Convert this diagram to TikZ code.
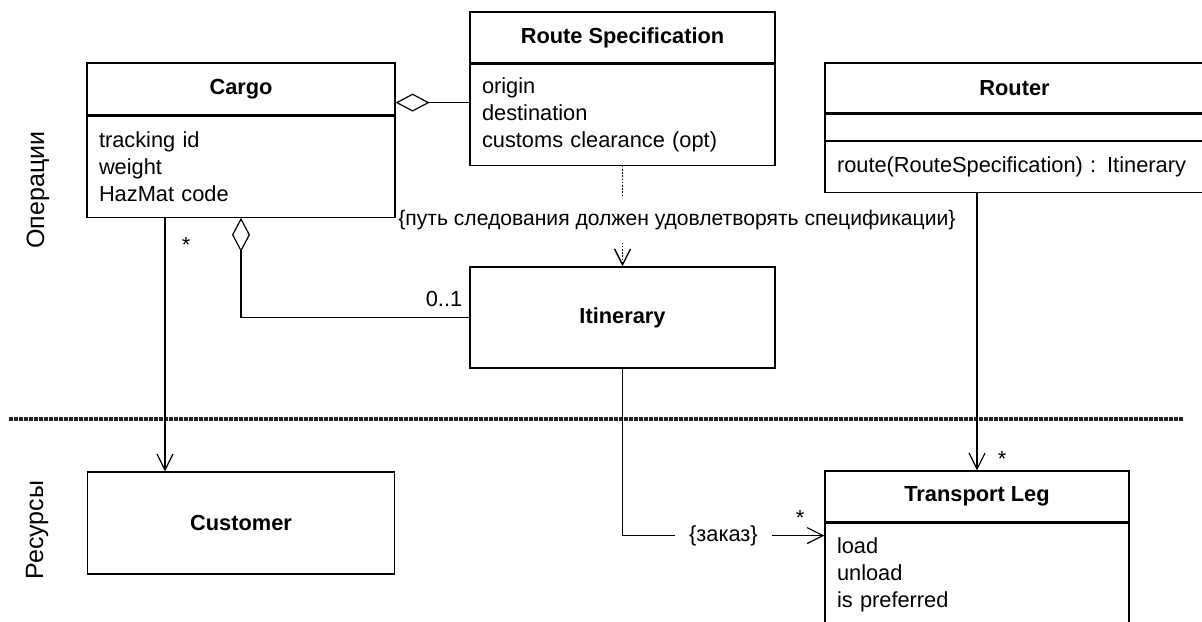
\documentclass[tikz,border=0pt]{standalone}
\usepackage{fontspec}
\setmainfont{Liberation Sans}
\usetikzlibrary{positioning,arrows.meta}

\newcommand\umlfont{\fontsize{10.9pt}{13.5pt}\selectfont}
\newcommand\notefont{\fontsize{10.55pt}{13pt}\selectfont}
\newcommand\lanefont{\fontsize{12.5pt}{15pt}\selectfont}

\tikzset{
  uml/.style={draw, line width=0.6pt, inner sep=0pt, font=\umlfont},
  classname/.style n args={2}{uml, font=\umlfont\bfseries, minimum width=#1, minimum height=#2},
  attrs/.style n args={2}{uml, align=left, text width=#1, inner xsep=6pt, minimum height=#2},
  mult/.style={font=\umlfont, anchor=base},
  lane/.style={font=\lanefont, rotate=90},
  separator/.style={line width=1.6pt, black!85, dash pattern=on 2pt off 0.5pt},
  assoc/.style={line width=0.6pt, -{Straight Barb[length=8pt,width=8pt]}},
  aggr/.style={line width=0.6pt, {Diamond[open,length=17pt,width=9pt]}-},
  depends/.style={assoc, line width=0.7pt, dash pattern=on 0.8pt off 0.8pt},
}

\begin{document}
\begin{tikzpicture}[x=0.5pt,y=-0.5pt]
  \useasboundingbox (0,0) rectangle (1202,621);
  \clip (0,0) rectangle (1202,621);

  % layers
  \node[lane] (ops) at (38,190) {Операции};
  \node[lane] (res) at (37,530) {Ресурсы};
  \draw[separator] (9,419) -- (1183,419);

  % classes
  \node[classname={154pt}{26pt}] (cargo) at (241,89) {Cargo};
  \node[attrs={142pt}{50.5pt}, below=0pt of cargo] (cargoattr) {tracking id\\weight\\HazMat code};

  \node[classname={152.5pt}{25.5pt}] (routespec) at (622.5,37.5) {Route Specification};
  \node[attrs={140.5pt}{50.5pt}, below=0pt of routespec] (routespecattr) {origin\\destination\\customs clearance (opt)};

  \node[classname={189.5pt}{25pt}] (router) at (1014.5,88) {Router};
  \node[attrs={177.5pt}{13pt}, below=0pt of router] (routerattr) {};
  \node[attrs={177.5pt}{25.5pt}, below=0pt of routerattr] (routerops) {route(RouteSpecification) : Itinerary};

  \node[classname={152.5pt}{50.5pt}] (itinerary) at (622.5,317.5) {Itinerary};
  \node[classname={153.5pt}{51pt}] (customer) at (241,523) {Customer};

  \node[classname={152pt}{25.5pt}] (transportleg) at (977,496.5) {Transport Leg};
  \node[attrs={140pt}{52pt}, below=0pt of transportleg] (transportlegattr) {load\\unload\\is preferred};

  % connectors
  \coordinate (specend) at ([yshift=6.5pt]cargo.south east);
  \draw[aggr] (specend) -- (specend -| routespecattr.west);
  \draw[aggr] (cargoattr.south) |- (itinerary.west);
  \draw[assoc] ([xshift=-38pt]cargoattr.south) -- ([xshift=-38pt]customer.north);
  \draw[depends] (routespecattr.south) -- (itinerary.north);
  \draw[assoc] (routerops.south -| transportleg.north) -- (transportleg.north);
  \draw[assoc] (itinerary.south) |- node[pos=0.75, fill=white, inner xsep=7pt, font=\umlfont] (order) {\{заказ\}} ([yshift=-6.5pt]transportlegattr.north west);

  \node[font=\notefont, fill=white, inner xsep=1pt, inner ysep=6pt, anchor=west] (constraint) at (396,220) {\{путь следования должен удовлетворять спецификации\}};

  % multiplicities
  \node[mult] (cargomult) at (186,252) {*};
  \node[mult] (itinmult) at (444,306) {0..1};
  \node[mult] (routermult) at (1002,466) {*};
  \node[mult] (ordermult) at (800,525) {*};
\end{tikzpicture}
\end{document}
